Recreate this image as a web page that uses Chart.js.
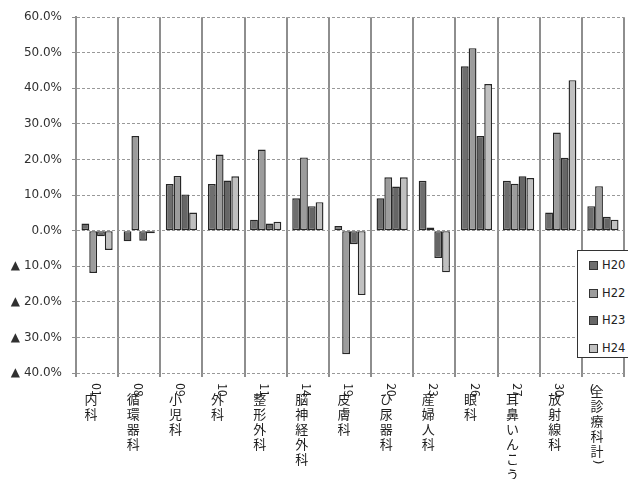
<!DOCTYPE html>
<html lang="ja">
<head>
<meta charset="utf-8">
<script src="https://cdn.jsdelivr.net/npm/chart.js@4/dist/chart.umd.min.js"></script>
<style>
  html, body { margin: 0; padding: 0; background: #fff; overflow: hidden; }
  #wrap { position: relative; width: 628px; height: 479px; overflow: hidden; }
  #legend {
    position: absolute; left: 577px; top: 250px; width: 64px; height: 108px;
    border: 1.5px solid #333; background: #fff; box-sizing: border-box;
    font: 11.5px "DejaVu Sans", sans-serif; color: #222;
  }
  #legend .row { position: absolute; left: 11px; height: 14px; display: flex; align-items: center; }
  #legend .sw { width: 7px; height: 7px; border: 1px solid #333; margin-right: 4px; }
</style>
</head>
<body>
<div id="wrap">
  <canvas id="c" width="628" height="479"></canvas>
  <div id="legend"></div>
</div>
<script>
// Departments (leading code number + name)
const categories = ['01内科', '08循環器科', '09小児科', '10外科', '11整形外科', '14脳神経外科',
  '19皮膚科', '20ひ尿器科', '23産婦人科', '26眼科', '27耳鼻いんこう', '30放射線科', '（全診療科計）'];

const seriesNames = ['H20', 'H22', 'H23', 'H24'];

// Rate of change (%)
const h20 = [2.0, -3.0, 13.1, 13.1, 3.1, 9.1, 1.3, 9.1, 14.0, 46.2, 14.0, 5.1, 6.9];
const h22 = [-11.9, 26.6, 15.4, 21.4, 22.8, 20.6, -34.7, 15.0, 0.9, 51.3, 13.2, 27.6, 12.5];
const h23 = [-1.6, -2.8, 10.2, 14.1, 2.0, 6.9, -3.8, 12.4, -7.7, 26.6, 15.3, 20.5, 3.9];
const h24 = [-5.4, -0.7, 5.1, 15.3, 2.5, 8.0, -18.1, 15.0, -11.7, 41.2, 14.8, 42.3, 3.1];

const yTicks = { min: -40, max: 60, step: 10 };

const fills = ['#6e6e6e', '#9c9c9c', '#666666', '#c0c0c0'];
const seriesValues = [h20, h22, h23, h24];

// Vertical (tategaki) category labels drawn under each tick
const verticalLabels = {
  id: 'verticalLabels',
  afterDraw(chart) {
    const ctx = chart.ctx;
    const xs = chart.scales.x;
    ctx.save();
    ctx.fillStyle = '#1e1e1e';
    ctx.textAlign = 'center';
    ctx.textBaseline = 'middle';
    categories.forEach((name, i) => {
      const cx = xs.getPixelForValue(i);
      const m = name.match(/^([0-9]+|（)(.*)$/);
      const lead = m ? m[1] : '';
      const body = m ? m[2] : name;
      let y0 = 399;
      if (/^[0-9]+$/.test(lead)) {
        ctx.save();
        ctx.translate(cx - 1, 390);
        ctx.rotate(Math.PI / 2);
        ctx.font = '12px "Noto Sans CJK JP"';
        ctx.fillText(lead, 0, 0);
        ctx.restore();
      } else if (lead) {
        y0 = 391;
        ctx.font = '13px "DejaVu Sans"';
        ctx.fillText('(', cx - 11, 391);
      }
      [...body].forEach((ch, k) => {
        const y = y0 + k * 15;
        if (ch === '）' || ch === ')') {
          // closing bracket turned sideways, as in vertical writing
          ctx.save();
          ctx.translate(cx - 6, y - 4);
          ctx.rotate(Math.PI / 2);
          ctx.font = '13px "DejaVu Sans"';
          ctx.fillText(')', 0, 0);
          ctx.restore();
        } else {
          ctx.font = '13px "Noto Sans CJK JP"';
          ctx.fillText(ch, cx - 6, y);
        }
      });
    });
    ctx.restore();
  }
};

new Chart(document.getElementById('c'), {
  type: 'bar',
  data: {
    labels: categories,
    datasets: seriesNames.map((n, i) => ({
      label: n,
      data: seriesValues[i],
      backgroundColor: fills[i],
      borderColor: '#262626',
      borderWidth: 1.4,
      borderSkipped: false,
      categoryPercentage: 0.74,
      barPercentage: 1.0
    }))
  },
  options: {
    responsive: false,
    animation: false,
    devicePixelRatio: 1,
    layout: { padding: { top: 13, right: 4, bottom: 106, left: 0 } },
    plugins: { legend: { display: false }, tooltip: { enabled: false } },
    scales: {
      x: {
        grid: { offset: true, color: '#8e8e8e', lineWidth: 2, tickLength: 4, drawTicks: true },
        border: { display: false },
        ticks: { display: false },
        afterFit(scale) { scale.height = 0; }
      },
      y: {
        min: yTicks.min,
        max: yTicks.max,
        ticks: {
          stepSize: yTicks.step,
          padding: 10,
          color: '#303030',
          font: { family: '"DejaVu Sans"', size: 12 },
          callback: v => v < 0 ? '▲ ' + Math.abs(v).toFixed(1) + '%' : v.toFixed(1) + '%'
        },
        grid: { color: '#999999', lineWidth: 1, tickLength: 4, tickColor: '#8e8e8e' },
        border: { display: true, color: '#8e8e8e', width: 2, dash: [3, 2] },
        afterFit(scale) { scale.width = 76; }
      }
    }
  },
  plugins: [verticalLabels]
});

// Legend box
const legend = document.getElementById('legend');
const rowTops = [7, 35, 62, 90];
seriesNames.forEach((n, i) => {
  const row = document.createElement('div');
  row.className = 'row';
  row.style.top = rowTops[i] + 'px';
  const sw = document.createElement('span');
  sw.className = 'sw';
  sw.style.background = fills[i];
  const t = document.createElement('span');
  t.textContent = n;
  row.appendChild(sw);
  row.appendChild(t);
  legend.appendChild(row);
});
</script>
</body>
</html>
